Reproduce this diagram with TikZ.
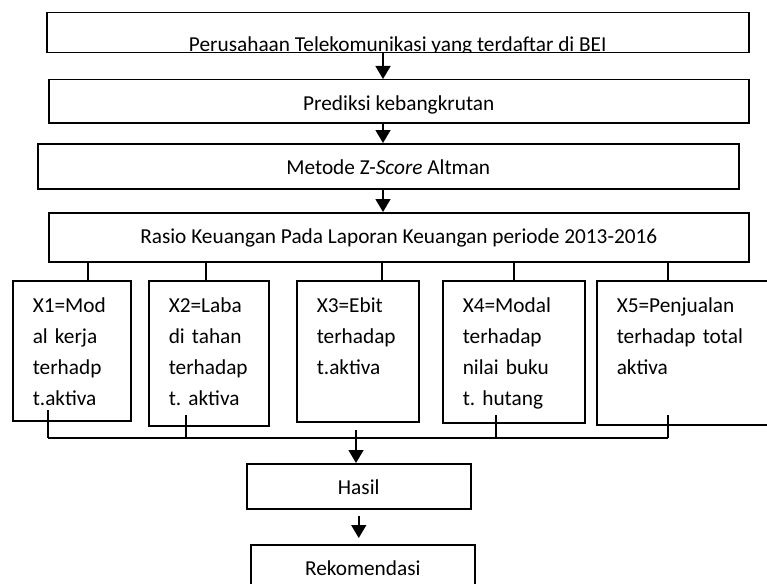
\documentclass[tikz,border=0pt]{standalone}
\usepackage{fontspec}
\setmainfont{Carlito}
\usepackage{xcolor}
\usepackage{tikz}
\usetikzlibrary{arrows.meta,positioning}
\definecolor{FrameInk}{HTML}{000000}
\frenchspacing

\tikzset{
  flowbox/.style={draw=FrameInk,line width=1.5pt,anchor=north west,
                  inner xsep=0pt,inner ysep=0pt,text height=31pt},
  varbox/.style={draw=FrameInk,line width=1.5pt,anchor=north west,
                 inner xsep=20pt,inner ysep=0pt,text height=32pt,align=left},
  linkline/.style={draw=FrameInk,line width=1.5pt},
  flowarrow/.style={linkline,-{Triangle[width=15pt,length=13pt]}}
}
\newcommand{\varlines}[1]{\noindent\begin{tabular}[t]{@{}l@{}}#1\end{tabular}}

\begin{document}
\begin{tikzpicture}[x=1pt,y=-1pt,font=\fontsize{21.3pt}{31pt}\selectfont]
  \useasboundingbox (0,0) rectangle (767,583);

  % main chain
  \node[flowbox,minimum width=702pt,minimum height=40pt,text height=0pt,text depth=0pt]
    (perusahaan) at (46,12) {};
  \begin{scope}
    \clip ([yshift=0.75pt]perusahaan.south west) rectangle (perusahaan.north east);
    \node[anchor=base,inner sep=0pt] (perusahaan-text) at ([yshift=1.5pt]perusahaan.south)
      {Perusahaan Telekomunikasi yang terdaftar di BEI};
  \end{scope}
  \node[flowbox,minimum width=700pt,text depth=12pt] (prediksi) at (48,79)
    {Prediksi kebangkrutan};
  \node[flowbox,minimum width=701pt,text depth=14pt] (metode) at (37,143)
    {Metode Z-\textit{Score} Altman};
  \node[flowbox,minimum width=700pt,text depth=18pt] (rasio) at (48,212)
    {Rasio Keuangan Pada Laporan Keuangan periode 2013-2016};

  \coordinate (spine) at (383,0);
  \draw[flowarrow] (perusahaan.south -| spine) -- (prediksi.north -| spine);
  \draw[flowarrow] (prediksi.south -| spine) -- (metode.north -| spine);
  \draw[flowarrow] (metode.south -| spine) -- (rasio.north -| spine);

  % ratio boxes
  \node[varbox,text width=78pt,text depth=108pt] (x1) at (12,280)
    {\varlines{X1=Mod\\al kerja\\terhadp\\t.aktiva}};
  \node[varbox,text width=80pt,text depth=113pt] (x2) at (148,280)
    {\varlines{X2=Laba\\di tahan\\terhadap\\t. aktiva}};
  \node[varbox,text width=82pt,text depth=109pt] (x3) at (296,280)
    {\varlines{X3=Ebit\\terhadap\\t.aktiva}};
  \node[varbox,text width=102pt,text depth=110pt] (x4) at (442,280)
    {\varlines{X4=Modal\\terhadap\\nilai buku\\t. hutang}};
  \node[varbox,text width=140pt,text depth=112pt] (x5) at (596,280)
    {\varlines{X5=Penjualan\\terhadap total\\aktiva}};

  \foreach \boxname/\xpos in {x1/88,x2/206,x3/382,x4/514,x5/668} {
    \coordinate (tick-\boxname) at (\xpos,0);
    \draw[linkline] (rasio.south -| tick-\boxname) -- (\boxname.north -| tick-\boxname);
  }

  % collect lines
  \coordinate (join) at (0,438);
  \foreach \boxname/\xpos/\ypos in {x1/48/410,x2/186/415,x4/496/415,x5/668/415} {
    \coordinate (foot-\boxname) at (\xpos,\ypos);
    \draw[linkline] (foot-\boxname) -- (foot-\boxname |- join);
  }
  \draw[linkline] (foot-x1 |- join) -- (foot-x5 |- join);

  % result
  \node[flowbox,minimum width=224pt,text depth=14pt] (hasil) at (246,463) {Hasil};
  \coordinate (merge) at (356,430);
  \draw[flowarrow] (merge) -- (merge |- hasil.north);
  \node[flowbox,minimum width=224pt,text depth=14pt] (rekomendasi) at (250,544) {Rekomendasi};
  \draw[flowarrow,shorten <=6pt,shorten >=6pt] (hasil.south) -- (rekomendasi.north -| hasil.south);
\end{tikzpicture}
\end{document}
